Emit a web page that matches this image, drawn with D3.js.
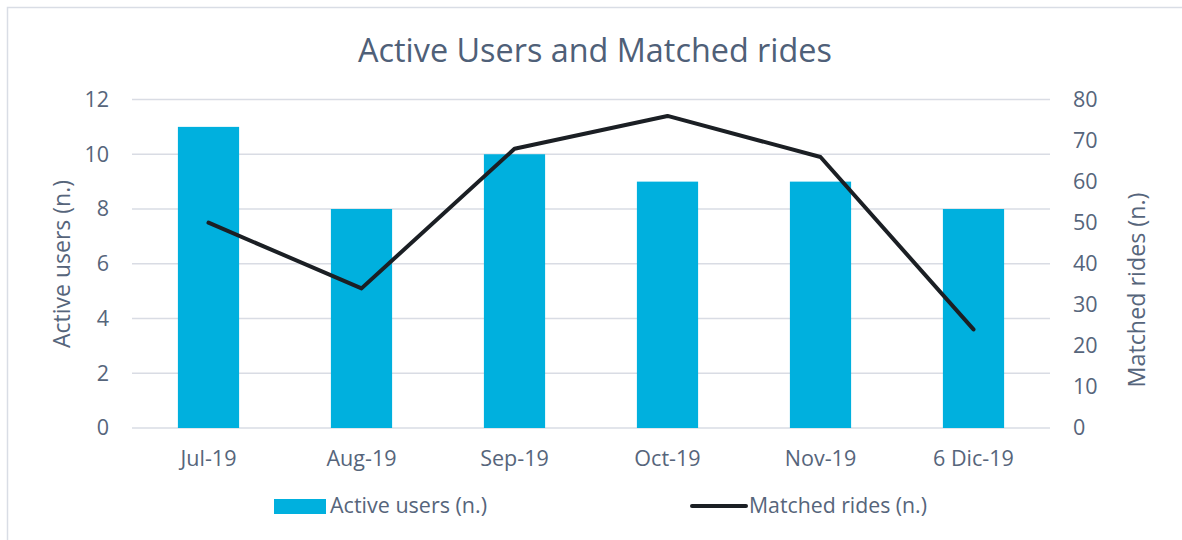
<!DOCTYPE html>
<html>
<head>
<meta charset="utf-8">
<script src="https://cdn.jsdelivr.net/npm/d3@7"></script>
<style>
  html, body { margin: 0; padding: 0; background: #fff; }
  svg { display: block; }
  text { font-family: "Open Sans", Lato, sans-serif; fill: #56657b; }
</style>
</head>
<body>
<svg id="chart" width="1182" height="540"></svg>
<script>
const categories = ["Jul-19", "Aug-19", "Sep-19", "Oct-19", "Nov-19", "6 Dic-19"];
const activeUsers = [11, 8, 10, 9, 9, 8];
const matchedRides = [50, 34, 68, 76, 66, 24];
const leftTicks = [0, 2, 4, 6, 8, 10, 12];
const rightTicks = [0, 10, 20, 30, 40, 50, 60, 70, 80];

const svg = d3.select("#chart");
const W = 1182, H = 540;
const plot = { left: 132, right: 1050, top: 99.5, bottom: 428 };
const FONT = '"Open Sans", Lato, sans-serif';

// fit a text node's font-size so its rendered width equals target
function fit(sel, base, target) {
  sel.style("font-size", base + "px");
  const w = sel.node().getComputedTextLength();
  let size = base;
  if (w > 0) size = base * target / w;
  sel.style("font-size", size.toFixed(2) + "px");
  return size;
}

// outer frame (only top/left edges visible)
svg.append("rect")
  .attr("x", 7.5).attr("y", 7.5)
  .attr("width", W + 20).attr("height", H + 20)
  .attr("fill", "none").attr("stroke", "#d9dde5").attr("stroke-width", 1.5);

const xc = d3.scaleBand().domain(categories).range([plot.left, plot.right]);
const yL = d3.scaleLinear().domain([0, 12]).range([plot.bottom, plot.top]);
const yR = d3.scaleLinear().domain([0, 80]).range([plot.bottom, plot.top]);

// gridlines
svg.append("g").selectAll("line").data(leftTicks).join("line")
  .attr("x1", plot.left).attr("x2", plot.right)
  .attr("y1", d => yL(d)).attr("y2", d => yL(d))
  .attr("stroke", "#d9dce4").attr("stroke-width", 1.5);

// bars
const bw = xc.bandwidth() * 0.4;
svg.append("g").selectAll("rect").data(activeUsers).join("rect")
  .attr("x", (d, i) => xc(categories[i]) + xc.bandwidth() / 2 - bw / 2)
  .attr("width", bw)
  .attr("y", d => yL(d))
  .attr("height", d => yL(0) - yL(d))
  .attr("fill", "#00b0de");

// line
const line = d3.line()
  .x((d, i) => xc(categories[i]) + xc.bandwidth() / 2)
  .y(d => yR(d));
svg.append("path").datum(matchedRides)
  .attr("d", line)
  .attr("fill", "none").attr("stroke", "#1b1f24").attr("stroke-width", 4)
  .attr("stroke-linecap", "round").attr("stroke-linejoin", "round");

// x axis (tick font size calibrated on first label)
const axX = d3.axisBottom(xc).tickSize(0).tickPadding(0);
const gX = svg.append("g").attr("transform", `translate(0,${plot.bottom})`).call(axX);
gX.select(".domain").remove();
gX.selectAll("text").attr("y", 38).attr("dy", null).style("font-family", FONT).attr("fill", "#56657b");
const tickPx = fit(gX.select(".tick text"), 16, 56);
gX.selectAll("text").style("font-size", tickPx.toFixed(2) + "px");

// left axis
const axL = d3.axisLeft(yL).tickValues(leftTicks).tickSize(0).tickPadding(23);
const gL = svg.append("g").attr("transform", `translate(${plot.left},0)`).call(axL);
gL.select(".domain").remove();
gL.selectAll("text").style("font-size", tickPx.toFixed(2) + "px").style("font-family", FONT).attr("fill", "#56657b");

// right axis
const axR = d3.axisRight(yR).tickValues(rightTicks).tickSize(0).tickPadding(23);
const gR = svg.append("g").attr("transform", `translate(${plot.right},0)`).call(axR);
gR.select(".domain").remove();
gR.selectAll("text").style("font-size", tickPx.toFixed(2) + "px").style("font-family", FONT).attr("fill", "#56657b");

// title
fit(svg.append("text")
  .attr("x", 595).attr("y", 62)
  .attr("text-anchor", "middle")
  .attr("fill", "#4f6078").style("fill", "#4f6078")
  .text("Active Users and Matched rides"), 28, 474);

// axis titles
fit(svg.append("text")
  .attr("transform", "translate(70,264) rotate(-90)")
  .attr("text-anchor", "middle")
  .text("Active users (n.)"), 20, 168);
fit(svg.append("text")
  .attr("transform", "translate(1145,290) rotate(-90)")
  .attr("text-anchor", "middle")
  .text("Matched rides (n.)"), 20, 195);

// legend
const lg = svg.append("g");
lg.append("rect").attr("x", 274).attr("y", 499).attr("width", 52).attr("height", 15).attr("fill", "#00b0de");
fit(lg.append("text").attr("x", 330).attr("y", 513).text("Active users (n.)"), 18, 157);
lg.append("line").attr("x1", 692).attr("x2", 746).attr("y1", 506).attr("y2", 506)
  .attr("stroke", "#1b1f24").attr("stroke-width", 4).attr("stroke-linecap", "round");
fit(lg.append("text").attr("x", 749).attr("y", 513).text("Matched rides (n.)"), 18, 178);
</script>
</body>
</html>
